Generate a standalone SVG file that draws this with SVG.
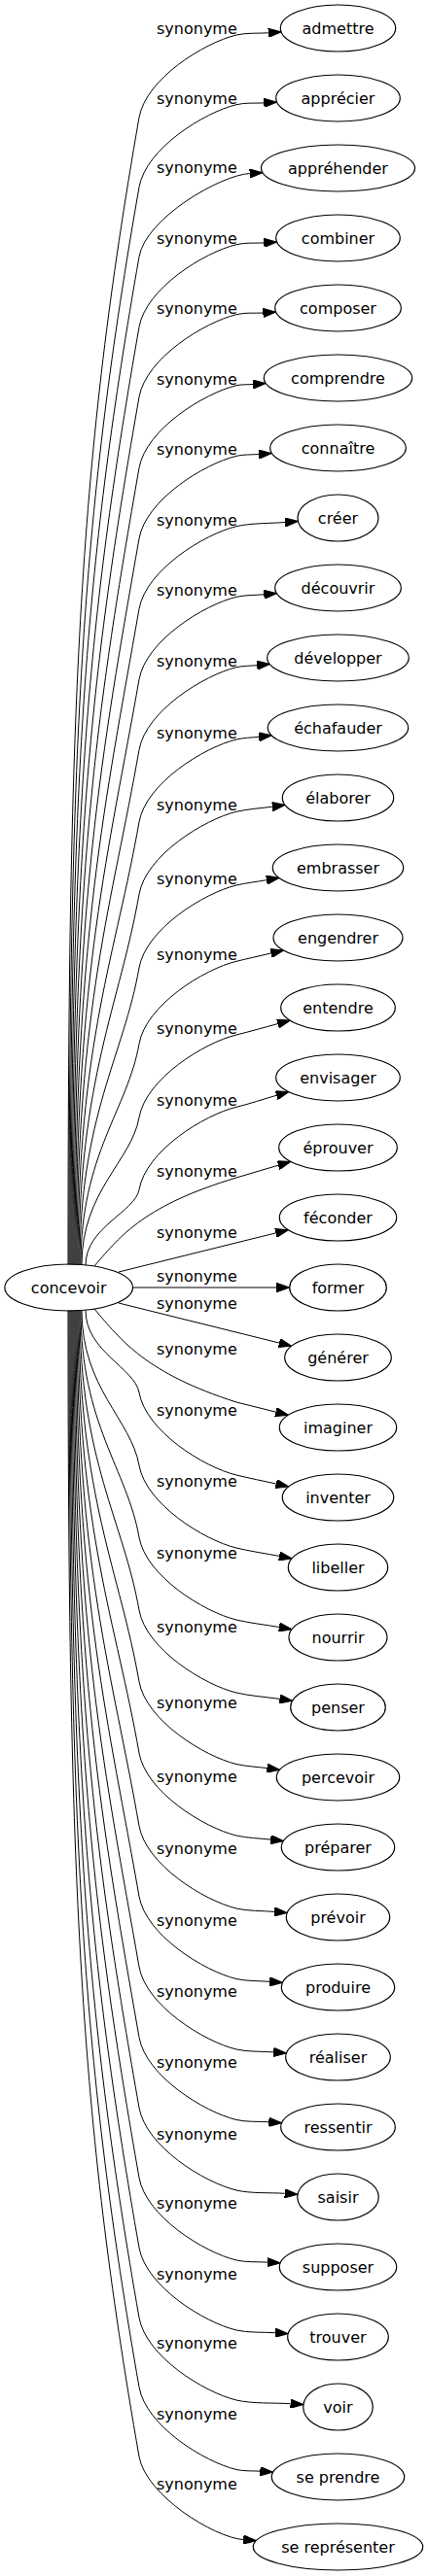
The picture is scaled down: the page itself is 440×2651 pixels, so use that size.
<svg xmlns="http://www.w3.org/2000/svg" width="440" height="2651" viewBox="0 0 440 2651">
<style>
  .node ellipse { fill: none; stroke: #000; stroke-width: 1.2; }
  .node text { font-family: "DejaVu Sans", "Liberation Sans", sans-serif; font-size: 16px; fill: #000; text-anchor: middle; }
  .edges path { fill: none; stroke: #000; stroke-width: 1; marker-end: url(#ah); }
  .edges text { font-family: "DejaVu Sans", "Liberation Sans", sans-serif; font-size: 16px; fill: #000; }
</style>
<defs>
  <marker id="ah" viewBox="0 0 13.3 9.3" markerWidth="13.3" markerHeight="9.3" refX="0" refY="4.65" orient="auto" markerUnits="userSpaceOnUse">
    <path d="M0,0 L13.3,4.65 L0,9.3 Z" fill="#000" stroke="#000" stroke-width="1"/>
  </marker>
</defs>
<rect width="440" height="2651" fill="#fff"/>
<g class="edges" id="connectors">
  <path d="M70,1301.5 C70,711.3 82.1,469.8 143,121 C150,81 210,44 243,36 C253,33.6 265.8,34.5 275.8,33.8"/>
  <text x="161" y="35">synonyme</text>
  <path d="M71,1301.5 C71,747.1 85.8,520.4 143,192.7 C150,152.7 210,115.7 243,107.7 C253,105.3 261.3,106.5 271.3,105.9"/>
  <text x="161" y="106.7">synonyme</text>
  <path d="M72,1301.5 C72,782.9 89.5,570.8 143,264.3 C150,224.3 226.7,180.3 256.7,178.5"/>
  <text x="161" y="178.3">synonyme</text>
  <path d="M73,1301.5 C73,819.1 93.2,621.8 143,336.7 C150,296.7 210,259.7 243,251.7 C253,249.3 261.3,250.5 271.3,249.9"/>
  <text x="161" y="250.7">synonyme</text>
  <path d="M74,1301.5 C74,855.1 96.9,672.5 143,408.7 C150,368.7 210,331.7 243,323.7 C253,321.3 260.4,322.6 270.4,322"/>
  <text x="161" y="322.7">synonyme</text>
  <path d="M75,1301.5 C75,891.6 100.7,724 143,481.7 C150,441.7 210,404.7 243,396.7 C248,395.5 254.9,395.9 260,395.5"/>
  <text x="161" y="395.7">synonyme</text>
  <path d="M76,1301.5 C76,927.9 104.4,775.1 143,554.3 C150,514.3 210,477.3 243,469.3 C249.8,467.6 259.2,468 266.2,467.5"/>
  <text x="161" y="468.3">synonyme</text>
  <path d="M77,1301.5 C77,964.1 108.2,826.1 143,626.7 C150,586.7 210,549.7 243,541.7 C257.6,538.2 278.1,538.7 293.1,537.5"/>
  <text x="161" y="540.7">synonyme</text>
  <path d="M78,1301.5 C78,1000.4 111.9,877.3 143,699.3 C150,659.3 210,622.3 243,614.3 C251.3,612.3 262.8,612.6 271.3,611.8"/>
  <text x="161" y="613.3">synonyme</text>
  <path d="M79,1301.5 C79,1036.6 115.7,928.3 143,771.7 C150,731.7 210,694.7 243,686.7 C249.2,685.2 257.8,685.3 264.2,684.7"/>
  <text x="161" y="685.7">synonyme</text>
  <path d="M80,1301.5 C80,1073.8 119.5,980.6 143,846 C150,806 210,769 243,761 C249.8,759.3 259.1,759.1 266.1,758.3"/>
  <text x="161" y="760">synonyme</text>
  <path d="M81,1301.5 C81,1110.9 123.3,1032.9 143,920.3 C150,880.3 210,843.3 243,835.3 C253.9,832.7 268.8,831.7 279.9,830.2"/>
  <text x="161" y="834.3">synonyme</text>
  <path d="M82,1301.5 C82,1148.8 127.2,1086.3 143,996 C150,956 210,919 243,911 C252.1,908.8 264.6,907.3 273.9,905.7"/>
  <text x="161" y="910">synonyme</text>
  <path d="M83,1301.5 C83,1187.9 131.3,1141.4 143,1074.3 C150,1034.3 210,997.3 243,989.3 C253.7,986.7 267.9,983.5 278.6,981"/>
  <text x="161" y="988.3">synonyme</text>
  <path d="M84,1301.5 C84,1225.8 135.2,1194.8 143,1150 C150,1110 210,1073 243,1065 C255.8,1061.9 272.8,1057 285.5,1053.6"/>
  <text x="161" y="1064">synonyme</text>
  <path d="M88,1302 C88,1262.9 139,1247.1 143,1224.3 C150,1184.3 210,1147.3 243,1139.3 C255.5,1136.3 271.8,1130.9 284.2,1127.3"/>
  <text x="161" y="1138.3">synonyme</text>
  <path d="M97,1303 C125,1270 150,1240 243,1212 L286.1,1199.2"/>
  <text x="161" y="1211">synonyme</text>
  <path d="M122,1309 L283.5,1268.9"/>
  <text x="161" y="1274.3">synonyme</text>
  <path d="M136.5,1325 L284.4,1325"/>
  <text x="161" y="1319.3">synonyme</text>
  <path d="M122,1341 L286.9,1382"/>
  <text x="161" y="1347.3">synonyme</text>
  <path d="M97,1347 C125,1380 150,1413 243,1443 L283.5,1453.1"/>
  <text x="161" y="1394">synonyme</text>
  <path d="M88,1348.5 C88,1390.8 138.6,1408 143,1433 C150,1473 210,1510 243,1518 C255.2,1521 271.6,1524.3 283.8,1527"/>
  <text x="161" y="1456.7">synonyme</text>
  <path d="M84,1348.5 C84,1428.3 134.8,1460.9 143,1508 C150,1548 210,1585 243,1593 C256,1596.2 273.8,1598.9 287,1601.4"/>
  <text x="161" y="1530">synonyme</text>
  <path d="M83,1348.5 C83,1465.3 131,1513 143,1582 C150,1622 210,1659 243,1667 C256,1670.2 273.7,1672.2 286.9,1674.5"/>
  <text x="161" y="1604">synonyme</text>
  <path d="M82,1348.5 C82,1502.8 127.1,1565.8 143,1657 C150,1697 210,1734 243,1742 C256.1,1745.2 274.1,1746.5 287.5,1748.4"/>
  <text x="161" y="1680">synonyme</text>
  <path d="M81,1348.5 C81,1539.5 123.3,1617.6 143,1730.5 C150,1770.5 210,1807.5 243,1815.5 C252.2,1817.7 265.1,1818.4 274.5,1819.6"/>
  <text x="161" y="1758">synonyme</text>
  <path d="M80,1348.5 C80,1576.3 119.5,1669.4 143,1804 C150,1844 210,1881 243,1889 C253.3,1891.5 267.7,1891.9 278.2,1893.1"/>
  <text x="161" y="1834">synonyme</text>
  <path d="M79,1348.5 C79,1613.8 115.6,1722.2 143,1879 C150,1919 210,1956 243,1964 C254.4,1966.8 270.3,1966.4 282,1967.4"/>
  <text x="161" y="1908">synonyme</text>
  <path d="M78,1348.5 C78,1650 111.9,1773.3 143,1951.5 C150,1991.5 210,2028.5 243,2036.5 C253,2038.9 266.8,2038.5 277.1,2039.3"/>
  <text x="161" y="1982">synonyme</text>
  <path d="M77,1348.5 C77,1686.3 108.1,1824.4 143,2024 C150,2064 210,2101 243,2109 C254.2,2111.7 269.7,2111 281.2,2111.9"/>
  <text x="161" y="2055">synonyme</text>
  <path d="M76,1348.5 C76,1722.5 104.4,1875.5 143,2096.5 C150,2136.5 210,2173.5 243,2181.5 C252.7,2183.9 266.3,2183.1 276.3,2183.8"/>
  <text x="161" y="2128">synonyme</text>
  <path d="M75,1348.5 C75,1758.8 100.7,1926.5 143,2169 C150,2209 210,2246 243,2254 C257.6,2257.5 277.7,2256.3 292.7,2257.3"/>
  <text x="161" y="2202">synonyme</text>
  <path d="M74,1348.5 C74,1794.8 96.9,1977.3 143,2241 C150,2281 210,2318 243,2326 C252.3,2328.3 265.2,2327.5 274.8,2328.1"/>
  <text x="161" y="2273">synonyme</text>
  <path d="M73,1348.5 C73,1830.8 93.2,2028 143,2313 C150,2353 210,2390 243,2398 C254.7,2400.8 270.9,2399.9 282.9,2400.7"/>
  <text x="161" y="2346">synonyme</text>
  <path d="M72,1348.5 C72,1866.8 89.5,2078.7 143,2385 C150,2425 210,2462 243,2470 C259.2,2473.9 281.9,2472.6 298.6,2473.7"/>
  <text x="161" y="2417">synonyme</text>
  <path d="M71,1348.5 C71,1902.5 85.8,2129.1 143,2456.5 C150,2496.5 210,2533.5 243,2541.5 C250.1,2543.2 260.1,2542.7 267.4,2543.2"/>
  <text x="161" y="2490">synonyme</text>
  <path d="M70,1348.5 C70,1938.3 82.1,2179.5 143,2528 C150,2568 220,2611.3 250.2,2613.6"/>
  <text x="161" y="2562">synonyme</text>
</g>
<g id="n-concevoir" class="node"><ellipse cx="70.7" cy="1325" rx="65.8" ry="24"/><text x="70.7" y="1330.7">concevoir</text></g>
<g id="n-admettre" class="node"><ellipse cx="347.5" cy="29" rx="59.2" ry="24"/><text x="347.5" y="35">admettre</text></g>
<g id="n-apprecier" class="node"><ellipse cx="347.5" cy="101" rx="63.8" ry="24"/><text x="347.5" y="107">apprécier</text></g>
<g id="n-apprehender" class="node"><ellipse cx="347.5" cy="173" rx="79" ry="24"/><text x="347.5" y="179">appréhender</text></g>
<g id="n-combiner" class="node"><ellipse cx="347.5" cy="245" rx="63.8" ry="24"/><text x="347.5" y="251">combiner</text></g>
<g id="n-composer" class="node"><ellipse cx="347.5" cy="317" rx="64.8" ry="24"/><text x="347.5" y="323">composer</text></g>
<g id="n-comprendre" class="node"><ellipse cx="347.5" cy="389" rx="76.2" ry="24"/><text x="347.5" y="395">comprendre</text></g>
<g id="n-connaitre" class="node"><ellipse cx="347.5" cy="461" rx="69.8" ry="24"/><text x="347.5" y="467">connaître</text></g>
<g id="n-creer" class="node"><ellipse cx="347.5" cy="533" rx="41.5" ry="24"/><text x="347.5" y="539">créer</text></g>
<g id="n-decouvrir" class="node"><ellipse cx="347.5" cy="605" rx="64.8" ry="24"/><text x="347.5" y="611">découvrir</text></g>
<g id="n-developper" class="node"><ellipse cx="347.5" cy="677" rx="72.8" ry="24"/><text x="347.5" y="683">développer</text></g>
<g id="n-echafauder" class="node"><ellipse cx="347.5" cy="749" rx="72.2" ry="24"/><text x="347.5" y="755">échafauder</text></g>
<g id="n-elaborer" class="node"><ellipse cx="347.5" cy="821" rx="57.2" ry="24"/><text x="347.5" y="827">élaborer</text></g>
<g id="n-embrasser" class="node"><ellipse cx="347.5" cy="893" rx="67.2" ry="24"/><text x="347.5" y="899">embrasser</text></g>
<g id="n-engendrer" class="node"><ellipse cx="347.5" cy="965" rx="66.5" ry="24"/><text x="347.5" y="971">engendrer</text></g>
<g id="n-entendre" class="node"><ellipse cx="347.5" cy="1037" rx="58.8" ry="24"/><text x="347.5" y="1043">entendre</text></g>
<g id="n-envisager" class="node"><ellipse cx="347.5" cy="1109" rx="63.8" ry="24"/><text x="347.5" y="1115">envisager</text></g>
<g id="n-eprouver" class="node"><ellipse cx="347.5" cy="1181" rx="60.8" ry="24"/><text x="347.5" y="1187">éprouver</text></g>
<g id="n-feconder" class="node"><ellipse cx="347.5" cy="1253" rx="60.2" ry="24"/><text x="347.5" y="1259">féconder</text></g>
<g id="n-former" class="node"><ellipse cx="347.5" cy="1325" rx="49.8" ry="24"/><text x="347.5" y="1331">former</text></g>
<g id="n-generer" class="node"><ellipse cx="347.5" cy="1397" rx="54.8" ry="24"/><text x="347.5" y="1403">générer</text></g>
<g id="n-imaginer" class="node"><ellipse cx="347.5" cy="1469" rx="60.2" ry="24"/><text x="347.5" y="1475">imaginer</text></g>
<g id="n-inventer" class="node"><ellipse cx="347.5" cy="1541" rx="57.2" ry="24"/><text x="347.5" y="1547">inventer</text></g>
<g id="n-libeller" class="node"><ellipse cx="347.5" cy="1613" rx="51.2" ry="24"/><text x="347.5" y="1619">libeller</text></g>
<g id="n-nourrir" class="node"><ellipse cx="347.5" cy="1685" rx="50.5" ry="24"/><text x="347.5" y="1691">nourrir</text></g>
<g id="n-penser" class="node"><ellipse cx="347.5" cy="1757" rx="48.8" ry="24"/><text x="347.5" y="1763">penser</text></g>
<g id="n-percevoir" class="node"><ellipse cx="347.5" cy="1829" rx="63.2" ry="24"/><text x="347.5" y="1835">percevoir</text></g>
<g id="n-preparer" class="node"><ellipse cx="347.5" cy="1901" rx="58.2" ry="24"/><text x="347.5" y="1907">préparer</text></g>
<g id="n-prevoir" class="node"><ellipse cx="347.5" cy="1973" rx="53.2" ry="24"/><text x="347.5" y="1979">prévoir</text></g>
<g id="n-produire" class="node"><ellipse cx="347.5" cy="2045" rx="58.2" ry="24"/><text x="347.5" y="2051">produire</text></g>
<g id="n-realiser" class="node"><ellipse cx="347.5" cy="2117" rx="53.8" ry="24"/><text x="347.5" y="2123">réaliser</text></g>
<g id="n-ressentir" class="node"><ellipse cx="347.5" cy="2189" rx="58.8" ry="24"/><text x="347.5" y="2195">ressentir</text></g>
<g id="n-saisir" class="node"><ellipse cx="347.5" cy="2261" rx="41.8" ry="24"/><text x="347.5" y="2267">saisir</text></g>
<g id="n-supposer" class="node"><ellipse cx="347.5" cy="2333" rx="60.2" ry="24"/><text x="347.5" y="2339">supposer</text></g>
<g id="n-trouver" class="node"><ellipse cx="347.5" cy="2405" rx="51.8" ry="24"/><text x="347.5" y="2411">trouver</text></g>
<g id="n-voir" class="node"><ellipse cx="347.5" cy="2477" rx="35.8" ry="24"/><text x="347.5" y="2483">voir</text></g>
<g id="n-se-prendre" class="node"><ellipse cx="347.5" cy="2549" rx="68.2" ry="24"/><text x="347.5" y="2555">se prendre</text></g>
<g id="n-se-representer" class="node"><ellipse cx="347.5" cy="2621" rx="87.2" ry="24"/><text x="347.5" y="2627">se représenter</text></g>
</svg>
